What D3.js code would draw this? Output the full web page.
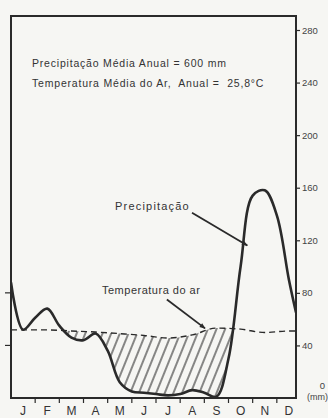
<!DOCTYPE html>
<html>
<head>
<meta charset="utf-8">
<script src="https://cdn.jsdelivr.net/npm/d3@7"></script>
<style>
body { margin: 0; background: #f6f6f3; }
svg { display: block; font-family: "Liberation Sans", Arial, sans-serif; }
</style>
</head>
<body>
<div id="chart"></div>
<script>
// values
var months = ["J", "F", "M", "A", "M", "J", "J", "A", "S", "O", "N", "D"];
// precipitation (mm) traced every half month, from 1 Jan to mid Dec
var precipHalf = [88, 52, 61, 68, 55, 46, 44, 49, 36, 12, 5, 4,
                  3, 2, 3, 6, 4, 1, 30, 100, 154, 158, 139, 90];
var precipEdge = 65;   // where the curve meets the right border
// mean air temperature (°C) per month, plus the ends at the borders
var tempC = [25.9, 25.9, 25.5, 25.1, 24.5, 23.8, 22.8, 24.0, 26.6, 26.2, 24.9, 25.5];
var tempEnds = [25.9, 25.5];
var mmTicks = [40, 80, 120, 160, 200, 240, 280];
var tempTicks = [20, 40];   // °C on the left side (10 °C = 20 mm)

var width = 328, height = 418;
var frame = {left: 11, right: 296, top: 16, bottom: 398};
var ink = "#2a2a2a";

var x = d3.scaleLinear().domain([0, 12]).range([11, 301]);
var y = d3.scaleLinear().domain([0, 280]).range([frame.bottom, 30]);
var edgeM = x.invert(frame.right);

var precipPts = precipHalf.map(function(v, i) { return {m: i / 2, v: v}; });
precipPts.push({m: edgeM, v: precipEdge});

var tempPts = [{m: 0, v: tempEnds[0] * 2}];
tempC.forEach(function(t, i) { tempPts.push({m: i + 0.5, v: t * 2}); });
tempPts.push({m: edgeM, v: tempEnds[1] * 2});

var rainCurve = d3.curveCatmullRom.alpha(0.5);

var svg = d3.select("#chart").append("svg")
    .attr("width", width)
    .attr("height", height);

var defs = svg.append("defs");

defs.append("pattern")
    .attr("id", "hatch")
    .attr("patternUnits", "userSpaceOnUse")
    .attr("width", 8)
    .attr("height", 8)
    .attr("patternTransform", "rotate(22)")
    .append("line")
    .attr("x1", 4).attr("y1", 0)
    .attr("x2", 4).attr("y2", 8)
    .attr("stroke", ink)
    .attr("stroke-width", 1.1);

defs.append("marker")
    .attr("id", "arrow")
    .attr("viewBox", "0 0 10 10")
    .attr("refX", 9)
    .attr("refY", 5)
    .attr("markerWidth", 10)
    .attr("markerHeight", 6)
    .attr("markerUnits", "userSpaceOnUse")
    .attr("orient", "auto")
    .append("path")
    .attr("d", "M0,1 L10,5 L0,9 z")
    .attr("fill", ink);

defs.append("clipPath")
    .attr("id", "plot")
    .append("rect")
    .attr("x", frame.left)
    .attr("y", frame.top)
    .attr("width", frame.right - frame.left)
    .attr("height", frame.bottom - frame.top);

// region above the rain curve: hatch only where temperature is above it
var aboveRain = d3.area()
    .x(function(d) { return x(d.m); })
    .y0(frame.top)
    .y1(function(d) { return y(d.v); })
    .curve(rainCurve);

defs.append("clipPath")
    .attr("id", "dry")
    .append("path")
    .attr("d", aboveRain(precipPts));

var belowTemp = d3.area()
    .x(function(d) { return x(d.m); })
    .y0(frame.bottom)
    .y1(function(d) { return y(d.v); })
    .curve(d3.curveMonotoneX);

var plot = svg.append("g").attr("clip-path", "url(#plot)");

plot.append("path")
    .attr("d", belowTemp(tempPts))
    .attr("fill", "url(#hatch)")
    .attr("clip-path", "url(#dry)");

var tempLine = d3.line()
    .x(function(d) { return x(d.m); })
    .y(function(d) { return y(d.v); })
    .curve(d3.curveMonotoneX);

var rainLine = d3.line()
    .x(function(d) { return x(d.m); })
    .y(function(d) { return y(d.v); })
    .curve(rainCurve);

// temperature (dashed)
plot.append("path")
    .attr("d", tempLine(tempPts))
    .attr("fill", "none")
    .attr("stroke", ink)
    .attr("stroke-width", 1.4)
    .attr("stroke-dasharray", "6,4");

// precipitation
plot.append("path")
    .attr("d", rainLine(precipPts))
    .attr("fill", "none")
    .attr("stroke", ink)
    .attr("stroke-width", 2.6)
    .attr("stroke-linejoin", "round");

// frame
svg.append("rect")
    .attr("x", frame.left)
    .attr("y", frame.top)
    .attr("width", frame.right - frame.left)
    .attr("height", frame.bottom - frame.top)
    .attr("fill", "none")
    .attr("stroke", ink)
    .attr("stroke-width", 2);

// right axis (mm)
var yAxis = svg.append("g")
    .attr("transform", "translate(" + frame.right + ",0)")
    .call(d3.axisRight(y).tickValues(mmTicks).tickSize(4).tickPadding(2));
yAxis.select(".domain").remove();
yAxis.selectAll("line").attr("stroke", ink).attr("stroke-width", 1.2);
yAxis.selectAll("text")
    .attr("fill", "#444")
    .style("font-size", "9.5px")
    .style("font-family", "'Liberation Sans', Arial, sans-serif");

svg.append("text")
    .attr("x", 325).attr("y", 389)
    .attr("text-anchor", "end")
    .attr("fill", "#444")
    .style("font-size", "9.5px")
    .text("0");
svg.append("text")
    .attr("x", 307).attr("y", 400)
    .attr("fill", "#444")
    .style("font-size", "9px")
    .text("(mm)");

// left ticks (temperature)
svg.selectAll(".ltick")
    .data(tempTicks)
    .enter().append("line")
    .attr("class", "ltick")
    .attr("x1", frame.left - 6)
    .attr("x2", frame.left)
    .attr("y1", function(d) { return y(d * 2); })
    .attr("y2", function(d) { return y(d * 2); })
    .attr("stroke", ink)
    .attr("stroke-width", 1.2);

// month ticks and labels
svg.selectAll(".mtick")
    .data(d3.range(1, 12))
    .enter().append("line")
    .attr("class", "mtick")
    .attr("x1", function(d) { return x(d); })
    .attr("x2", function(d) { return x(d); })
    .attr("y1", frame.bottom - 1)
    .attr("y2", frame.bottom + 5)
    .attr("stroke", ink)
    .attr("stroke-width", 1.2);

svg.selectAll(".month")
    .data(months)
    .enter().append("text")
    .attr("class", "month")
    .attr("x", function(d, i) { return x(i + 0.5); })
    .attr("y", 415)
    .attr("text-anchor", "middle")
    .attr("fill", "#333")
    .style("font-size", "12px")
    .text(function(d) { return d; });

// headline text
var title = svg.append("g")
    .attr("fill", "#333")
    .style("font-size", "10.5px")
    .style("letter-spacing", "0.8px");
title.append("text").attr("x", 32).attr("y", 67).text("Precipitação Média Anual = 600 mm");
title.append("text").attr("x", 32).attr("y", 87).text("Temperatura Média do Ar,  Anual =  25,8°C")
    .style("white-space", "pre");

// annotations with arrows, ends given in chart units (month, mm)
var notes = [
    {label: "Precipitação", lx: 115, ly: 210, ls: 1.2, from: [7.49, 141], to: [9.78, 116]},
    {label: "Temperatura do ar", lx: 102, ly: 294, ls: 0.5, from: [6.45, 75], to: [8.03, 53]}
];

svg.selectAll(".note")
    .data(notes)
    .enter().append("text")
    .attr("class", "note")
    .attr("x", function(d) { return d.lx; })
    .attr("y", function(d) { return d.ly; })
    .attr("fill", "#333")
    .style("font-size", "11px")
    .style("letter-spacing", function(d) { return d.ls + "px"; })
    .text(function(d) { return d.label; });

svg.selectAll(".arrow")
    .data(notes)
    .enter().append("line")
    .attr("class", "arrow")
    .attr("x1", function(d) { return x(d.from[0]); })
    .attr("y1", function(d) { return y(d.from[1]); })
    .attr("x2", function(d) { return x(d.to[0]); })
    .attr("y2", function(d) { return y(d.to[1]); })
    .attr("stroke", ink)
    .attr("stroke-width", 1.8)
    .attr("marker-end", "url(#arrow)");
</script>
</body>
</html>
